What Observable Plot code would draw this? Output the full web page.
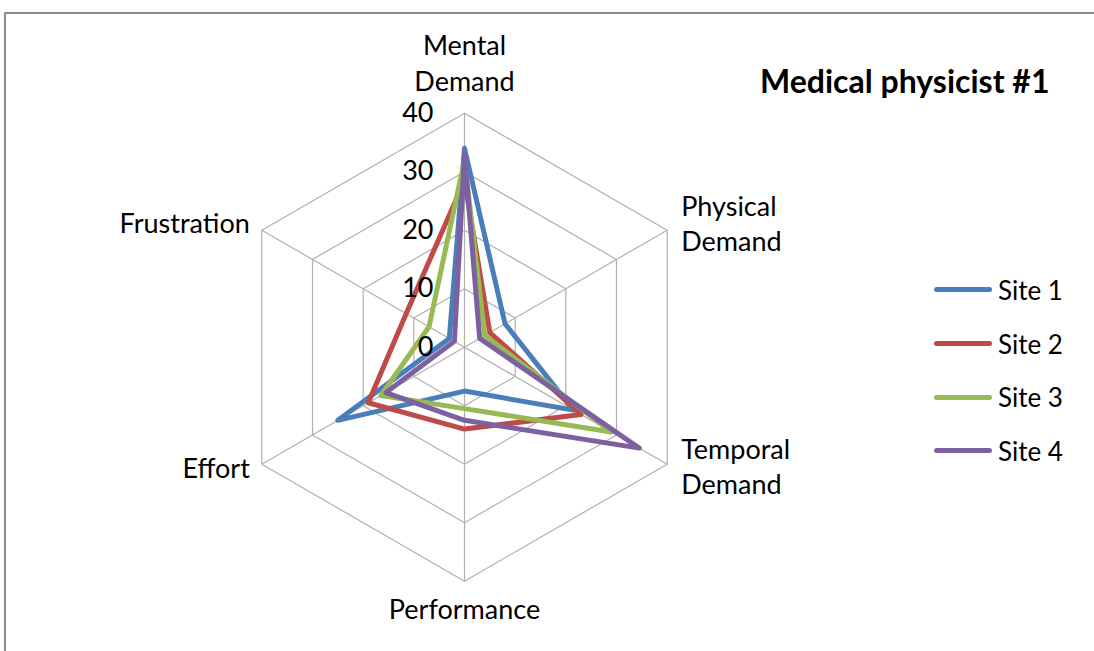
<!DOCTYPE html>
<html>
<head>
<meta charset="utf-8">
<script src="https://cdn.jsdelivr.net/npm/d3@7"></script>
<script src="https://cdn.jsdelivr.net/npm/@observablehq/plot@0.6"></script>
<style>
  html, body { margin: 0; padding: 0; background: #fff; overflow: hidden; }
  #wrap { position: relative; width: 1094px; height: 651px; overflow: hidden; font-family: Lato, "Open Sans", sans-serif; }
  #frame { position: absolute; left: 4px; top: 12px; width: 1200px; height: 800px; border: 2px solid #8c8c8c; box-sizing: border-box; }
  #chart { position: absolute; left: 0; top: 0; }
  #title { position: absolute; left: 760px; top: 61px; font-size: 32px; font-weight: bold; color: #000; white-space: nowrap; }
  #legend { position: absolute; left: 934px; top: 263px; }
  .item { display: flex; align-items: center; height: 53.7px; font-size: 26px; color: #000; }
  .sw { width: 58px; height: 5px; border-radius: 3px; margin-right: 6px; }
</style>
</head>
<body>
<div id="wrap">
  <div id="frame"></div>
  <div id="chart"></div>
  <div id="title">Medical physicist #1</div>
  <div id="legend"></div>
</div>
<script>
// Axis categories (clockwise from top)
const axes = ["Mental Demand", "Physical Demand", "Temporal Demand", "Performance", "Effort", "Frustration"];
const axisLabels = ["Mental\nDemand", "Physical\nDemand", "Temporal\nDemand", "Performance", "Effort", "Frustration"];
// Series values
const siteNames = ["Site 1", "Site 2", "Site 3", "Site 4"];
const site1 = [34, 8, 21.5, 7.5, 25, 3];
const site2 = [28.5, 5, 23, 14, 19, 11.5];
const site3 = [32, 4, 29, 10.5, 16.5, 7];
const site4 = [33, 3, 34.5, 12.5, 15.5, 2];
const siteColors = ["#4a7ebb", "#be4b48", "#98b954", "#7d60a0"];
// Radial tick values
const ticks = [0, 10, 20, 30, 40];
const maxV = 40;

const W = 1094, H = 651;
const cx = 464, cy = 346.7, k = 5.85; // center and px per unit

const ang = i => i * Math.PI / 3;
const px = (v, i) => v * Math.sin(ang(i));
const py = (v, i) => v * Math.cos(ang(i));

const series = [site1, site2, site3, site4];
const seriesData = series.map((vals, s) =>
  vals.map((v, i) => ({site: siteNames[s], axis: axes[i], x: px(v, i), y: py(v, i)})));

const rings = ticks.filter(t => t > 0).flatMap(t =>
  axes.map((a, i) => ({ring: t, x: px(t, i), y: py(t, i)})));
const spokes = axes.map((a, i) => ({x2: px(maxV, i), y2: py(maxV, i)}));
const tickData = ticks.map(t => ({t, label: String(t)}));

const labelData = axisLabels.map((l, i) => ({label: l, x: px(maxV, i), y: py(maxV, i)}));
const fs = 27;

const lineMarks = seriesData.map((d, s) =>
  Plot.line(d, {x: "x", y: "y", curve: "linear-closed", stroke: siteColors[s], strokeWidth: 5, strokeLinejoin: "round"}));

const plot = Plot.plot({
  width: W, height: H,
  margin: 0,
  x: {domain: [-cx / k, (W - cx) / k], axis: null},
  y: {domain: [-(H - cy) / k, cy / k], axis: null},
  style: {fontFamily: "Lato, 'Open Sans', sans-serif", background: "transparent", overflow: "visible"},
  marks: [
    Plot.line(rings, {x: "x", y: "y", z: "ring", curve: "linear-closed", stroke: "#b0b0b0", strokeWidth: 1.2}),
    Plot.link(spokes, {x1: 0, y1: 0, x2: "x2", y2: "y2", stroke: "#b0b0b0", strokeWidth: 1.2}),
    ...lineMarks,
    Plot.text(tickData, {x: 0, y: "t", text: "label", textAnchor: "end", dx: -31, fontSize: fs, fill: "#000"}),
    // axis labels
    Plot.text([labelData[0]], {x: "x", y: "y", text: "label", textAnchor: "middle", lineAnchor: "bottom", dy: -22, lineHeight: 1.33, fontSize: fs, fill: "#000"}),
    Plot.text([labelData[1]], {x: "x", y: "y", text: "label", textAnchor: "start", lineAnchor: "middle", dx: 14, dy: -8, lineHeight: 1.3, fontSize: fs, fill: "#000"}),
    Plot.text([labelData[2]], {x: "x", y: "y", text: "label", textAnchor: "start", lineAnchor: "middle", dx: 14, dy: 1, lineHeight: 1.3, fontSize: fs, fill: "#000"}),
    Plot.text([labelData[3]], {x: "x", y: "y", text: "label", textAnchor: "middle", lineAnchor: "top", dy: 19, fontSize: fs, fill: "#000"}),
    Plot.text([labelData[4]], {x: "x", y: "y", text: "label", textAnchor: "end", lineAnchor: "middle", dx: -12, dy: 5, fontSize: fs, fill: "#000"}),
    Plot.text([labelData[5]], {x: "x", y: "y", text: "label", textAnchor: "end", lineAnchor: "middle", dx: -12, dy: -6, fontSize: fs, fill: "#000"})
  ]
});
document.getElementById("chart").appendChild(plot);

const legend = document.getElementById("legend");
siteNames.forEach((n, s) => {
  const item = document.createElement("div");
  item.className = "item";
  const sw = document.createElement("div");
  sw.className = "sw";
  sw.style.background = siteColors[s];
  const t = document.createElement("span");
  t.textContent = n;
  item.appendChild(sw); item.appendChild(t);
  legend.appendChild(item);
});
</script>
</body>
</html>
